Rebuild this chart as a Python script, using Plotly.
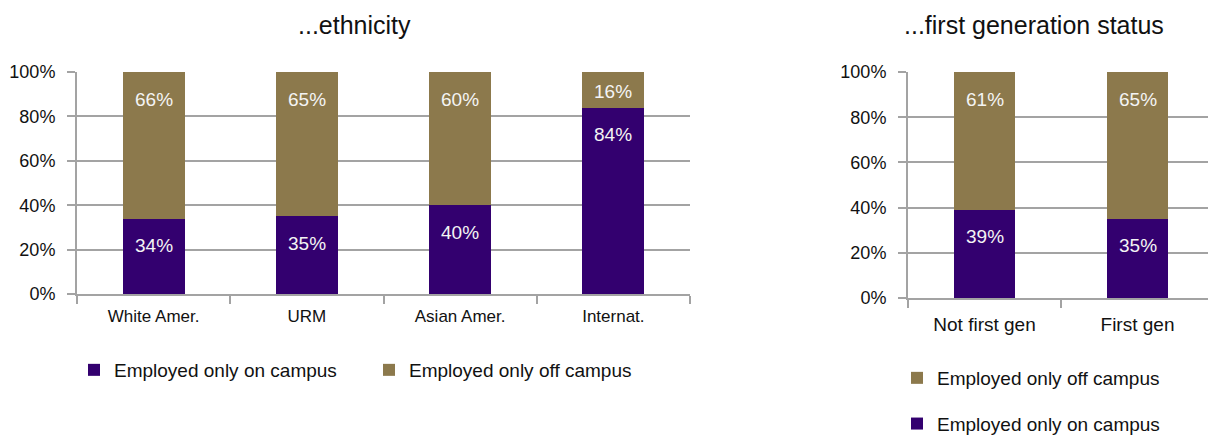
import plotly.graph_objects as go

# Employment location by ethnicity
eth_categories = ["White Amer.", "URM", "Asian Amer.", "Internat."]
eth_on_campus = [34, 35, 40, 84]
eth_off_campus = [66, 65, 60, 16]

# Employment location by first generation status
gen_categories = ["Not first gen", "First gen"]
gen_on_campus = [39, 35]
gen_off_campus = [61, 65]

y_ticks = [0, 20, 40, 60, 80, 100]
y_tick_text = [f"{v}%" for v in y_ticks]

PURPLE = "#33006F"
GOLD = "#8C794C"
GRID = "#A3A3A3"
FONT = "Liberation Sans, Arial, sans-serif"
W, H = 1208, 435

fig = go.Figure()

# left panel
fig.add_trace(go.Bar(x=eth_categories, y=eth_on_campus, name="Employed only on campus",
                     marker_color=PURPLE, xaxis="x", yaxis="y", legend="legend",
                     legendrank=1))
fig.add_trace(go.Bar(x=eth_categories, y=eth_off_campus, name="Employed only off campus",
                     marker_color=GOLD, xaxis="x", yaxis="y", legend="legend",
                     legendrank=2))
# right panel
fig.add_trace(go.Bar(x=gen_categories, y=gen_on_campus, name="Employed only on campus",
                     marker_color=PURPLE, xaxis="x2", yaxis="y2", legend="legend2",
                     legendgroup="on", legendrank=2))
fig.add_trace(go.Bar(x=gen_categories, y=gen_off_campus, name="Employed only off campus",
                     marker_color=GOLD, xaxis="x2", yaxis="y2", legend="legend2",
                     legendgroup="off", legendrank=1))
for t in fig.data:
    t.update(marker_line_width=0, hoverinfo="skip")

# plot areas in pixels
left_px = (77, 690, 72, 294)     # x0, x1, ytop, ybottom
right_px = (908, 1208, 72, 298)
cat_w = 153.0


def dom_x(a, b):
    return [a / W, b / W]


def dom_y(top, bottom):
    return [1 - bottom / H, 1 - top / H]


axis_common = dict(
    showline=True, linecolor=GRID, linewidth=2,
    ticks="outside", ticklen=8, tickwidth=2, tickcolor=GRID,
    showgrid=False, zeroline=False, fixedrange=True,
)
yaxis_common = dict(
    range=[0, 100], tickmode="array", tickvals=y_ticks, ticktext=y_tick_text,
    showgrid=True, gridcolor=GRID, gridwidth=2,
    showline=True, linecolor=GRID, linewidth=2,
    ticks="outside", ticklen=8, tickwidth=2, tickcolor=GRID,
    zeroline=False, fixedrange=True,
    tickfont=dict(family=FONT, size=18, color="#111111"),
    ticklabelstandoff=8,
)

fig.update_layout(
    width=W, height=H,
    margin=dict(l=0, r=0, t=0, b=0, autoexpand=False),
    paper_bgcolor="white", plot_bgcolor="white",
    barmode="stack", bargap=0.595,
    font=dict(family=FONT, color="#111111"),
    xaxis=dict(domain=dom_x(left_px[0], left_px[1]), anchor="y",
               range=[-0.5, 3.5], tickson="boundaries",
               tickfont=dict(family=FONT, size=17, color="#111111"),
               ticklabelstandoff=6, **axis_common),
    yaxis=dict(domain=dom_y(left_px[2], left_px[3]), anchor="x", **yaxis_common),
    xaxis2=dict(domain=dom_x(right_px[0], right_px[1]), anchor="y2",
                range=[-0.5, -0.5 + (right_px[1] - right_px[0]) / cat_w],
                tickson="boundaries",
                tickfont=dict(family=FONT, size=19, color="#111111"),
                ticklabelstandoff=8, **axis_common),
    yaxis2=dict(domain=dom_y(right_px[2], right_px[3]), anchor="x2", **yaxis_common),
    legend=dict(orientation="h", x=74 / W, xanchor="left", y=1 - 370 / H, yanchor="middle",
                font=dict(family=FONT, size=19, color="#111111"),
                traceorder="normal",
                itemwidth=30, entrywidth=250, bgcolor="rgba(0,0,0,0)"),
    legend2=dict(orientation="v", x=897 / W, xanchor="left", y=1 - 401 / H, yanchor="middle",
                 font=dict(family=FONT, size=19, color="#111111"),
                 itemwidth=30, traceorder="grouped", tracegroupgap=18,
                 bgcolor="rgba(0,0,0,0)"),
    showlegend=True,
)

annotations = [
    dict(text="...ethnicity", x=354 / W, y=1 - 25 / H, xref="paper", yref="paper",
         showarrow=False, font=dict(family=FONT, size=25, color="#111111"),
         xanchor="center", yanchor="middle"),
    dict(text="...first generation status", x=1034 / W, y=1 - 25 / H, xref="paper", yref="paper",
         showarrow=False, font=dict(family=FONT, size=25, color="#111111"),
         xanchor="center", yanchor="middle"),
]


def seg_labels(cats, on, off, xref, yref, px_per_pct):
    out = []
    for c, a, b in zip(cats, on, off):
        for top, val in ((a, a), (a + b, b)):
            seg_px = val * px_per_pct
            shift = -min(27.0, seg_px / 2 + 2)
            out.append(dict(text=f"{val}%", x=c, y=top, xref=xref, yref=yref,
                            yshift=shift, showarrow=False,
                            font=dict(family=FONT, size=19, color="#F4F4F4"),
                            xanchor="center", yanchor="middle"))
    return out


annotations += seg_labels(eth_categories, eth_on_campus, eth_off_campus, "x", "y",
                          (left_px[3] - left_px[2]) / 100)
annotations += seg_labels(gen_categories, gen_on_campus, gen_off_campus, "x2", "y2",
                          (right_px[3] - right_px[2]) / 100)
fig.update_layout(annotations=annotations)

fig.write_html("out.html", config={"displayModeBar": False})
